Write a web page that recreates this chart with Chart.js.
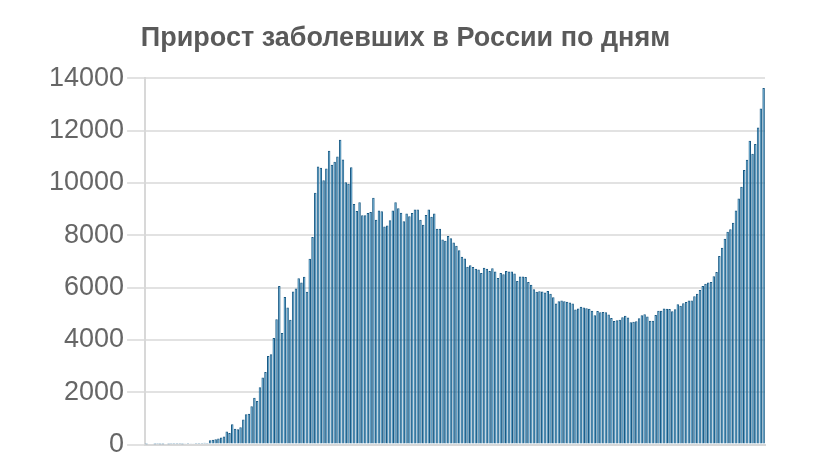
<!DOCTYPE html>
<html>
<head>
<meta charset="utf-8">
<script src="https://cdn.jsdelivr.net/npm/chart.js@4"></script>
<style>
  html, body { margin: 0; padding: 0; background: #fff; }
  #wrap { width: 817px; height: 461px; }
</style>
</head>
<body>
<div id="wrap"><canvas id="casesChart"></canvas></div>
<script>
// Daily new cases, 2 March - 11 October
const march = [1, 0, 0, 1, 6, 4, 3, 0, 3, 8, 6, 11, 14, 4, 30, 21, 33, 52, 54, 53, 61, 71, 57, 163, 182, 196, 228, 270, 302, 501];
const april = [440, 771, 601, 582, 658, 954, 1154, 1175, 1459, 1786, 1667, 2186, 2558, 2774, 3388, 3448, 4070, 4785, 6060, 4268,
  5642, 5236, 4774, 5849, 5966, 6361, 6198, 6411, 5841, 7099];
const may = [7933, 9623, 10633, 10581, 10102, 10559, 11231, 10699, 10817, 11012, 11656, 10899, 10028, 9974, 10598, 9200, 8926, 9263,
  8764, 8764, 8849, 8894, 9434, 8599, 8946, 8915, 8338, 8371, 8572, 8952, 9268];
const june = [9035, 8863, 8536, 8831, 8726, 8855, 8984, 8985, 8595, 8404, 8779, 8987, 8706, 8835, 8246, 8248, 7843, 7790, 7972, 7889,
  7728, 7600, 7425, 7176, 7113, 6800, 6852, 6791, 6719, 6693];
const july = [6556, 6760, 6718, 6632, 6736, 6611, 6368, 6562, 6509, 6635, 6615, 6611, 6537, 6248, 6422, 6428, 6406, 6214, 6109, 5940,
  5842, 5862, 5848, 5811, 5871, 5765, 5635, 5395, 5475, 5509, 5482];
const august = [5462, 5427, 5394, 5159, 5204, 5267, 5241, 5212, 5189, 5118, 4945, 5102, 5057, 5065, 5061, 4969, 4839, 4718, 4748, 4767,
  4870, 4921, 4852, 4676, 4696, 4711, 4829, 4941, 4980, 4897, 4729];
const september = [4729, 4952, 5110, 5110, 5205, 5195, 5185, 5099, 5172, 5363, 5310, 5406, 5449, 5504, 5509, 5670, 5762, 5905, 6065, 6148,
  6196, 6215, 6431, 6595, 7212, 7523, 7867, 8135, 8232, 8481];
const october = [8945, 9412, 9859, 10499, 10888, 11615, 11115, 11493, 12126, 12846, 13634];

const dailyCases = [].concat(march, april, may, june, july, august, september, october);
const startDate = new Date(2020, 2, 2);
const dayLabels = dailyCases.map((v, i) => {
  const d = new Date(startDate);
  d.setDate(d.getDate() + i);
  return d.toLocaleDateString('ru-RU');
});
const yTicks = [0, 2000, 4000, 6000, 8000, 10000, 12000, 14000];
const chartTitle = 'Прирост заболевших в России по дням';

const ctx = document.getElementById('casesChart').getContext('2d');
const casesChart = new Chart(ctx, {
  type: 'bar',
  data: {
    labels: dayLabels,
    datasets: [{
      data: dailyCases,
      backgroundColor: '#3592c6',
      borderColor: '#1a5a84',
      borderWidth: 1,
      barPercentage: 0.9,
      categoryPercentage: 1
    }]
  },
  options: {
    responsive: true,
    maintainAspectRatio: false,
    animation: false,
    layout: { padding: { top: 12, right: 52, bottom: 0, left: 46 } },
    plugins: {
      legend: { display: false },
      tooltip: { enabled: false },
      title: {
        display: true,
        text: chartTitle,
        color: '#5a5a5a',
        font: { family: 'Liberation Sans', size: 27, weight: 'bold' },
        padding: { top: 10, bottom: 24 }
      }
    },
    scales: {
      x: {
        ticks: { display: false },
        grid: { display: false },
        border: { color: '#d8d8d8', width: 2 }
      },
      y: {
        min: 0,
        max: 14000,
        afterBuildTicks: axis => { axis.ticks = yTicks.map(v => ({ value: v })); },
        ticks: {
          color: '#666',
          padding: 3,
          font: { family: 'Liberation Sans', size: 27, lineHeight: 1 },
          callback: v => String(v)
        },
        grid: { color: '#e2e2e2', lineWidth: 2, tickLength: 18 },
        border: { color: '#d8d8d8', width: 2 }
      }
    }
  }
});
</script>
</body>
</html>
